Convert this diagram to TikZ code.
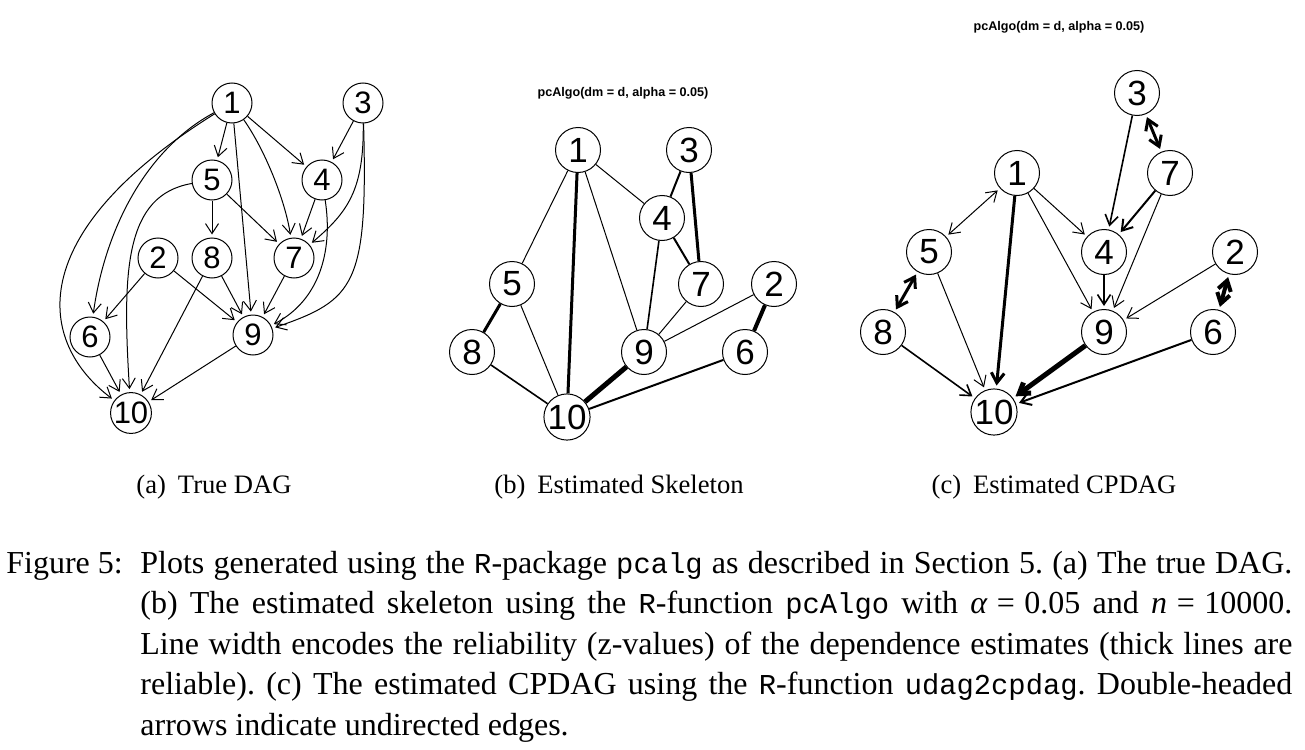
\documentclass[tikz,border=0pt]{standalone}
\usepackage{fontspec}
\setmainfont{Liberation Serif}
\setsansfont{Liberation Sans}
\setmonofont[Scale=0.9]{Liberation Mono}
\usepackage{tikz}
\usetikzlibrary{arrows.meta}

\begin{document}
\begin{tikzpicture}[
			x=0.5pt, y=-0.5pt,
			vertex/.style={
				circle, draw, line width=0.5pt, inner sep=0pt,
				minimum size=20pt, font=\sffamily\fontsize{15.5}{15.5}\selectfont
			},
			bigvertex/.style={vertex, minimum size=22.5pt, font=\sffamily\fontsize{17.5}{17.5}\selectfont},
			arc/.style={-{Straight Barb[length=5pt,width=6.5pt]}, line width=0.5pt, shorten >=1.5pt},
			biarc/.style={{Straight Barb[length=5pt,width=6.5pt]}-{Straight Barb[length=5pt,width=6.5pt]}, shorten >=1.5pt, shorten <=1.5pt},
			wa/.style={line width=0.5pt},
			wb/.style={line width=0.8pt},
			wc/.style={line width=1pt},
			wd/.style={line width=1.5pt},
			we/.style={line width=2pt},
			wf/.style={line width=2.5pt},
			plottitle/.style={font=\sffamily\bfseries\fontsize{6.3}{7}\selectfont},
			subcap/.style={anchor=base, font=\fontsize{13.3}{16}\selectfont}
			]
			\useasboundingbox (0,0) rectangle (1305,749);
			% (a) true DAG
			\node[vertex] (a1) at (232,103) {1};
			\node[vertex] (a3) at (363,103) {3};
			\node[vertex] (a5) at (212,180) {5};
			\node[vertex] (a4) at (322,180) {4};
			\node[vertex] (a2) at (158,258) {2};
			\node[vertex] (a8) at (212,258) {8};
			\node[vertex] (a7) at (294,258) {7};
			\node[vertex] (a6) at (90,337) {6};
			\node[vertex] (a9) at (253,335) {9};
			\node[vertex] (a10) at (131,413) {10};
			\draw[arc] (a1)--(a5);
			\draw[arc] (a1)--(a4);
			\draw[arc] (a1)--(a9);
			\draw[arc] (a1) .. controls (265,150) and (285,200) .. (a7);
			\draw[arc] (a1) .. controls (145,150) and (105,230) .. (a6);
			\draw[arc] (a1) .. controls (22,234) and (37,342) .. (a10);
			\draw[arc] (a3)--(a4);
			\draw[arc] (a3) .. controls (364,190) and (348,212) .. (a7);
			\draw[arc] (a3) .. controls (368,285) and (355,300) .. (a9);
			\draw[arc] (a5)--(a8);
			\draw[arc] (a5)--(a7);
			\draw[arc] (a5) .. controls (125,195) and (122,270) .. (a10);
			\draw[arc] (a4)--(a7);
			\draw[arc] (a4) .. controls (333,250) and (320,300) .. (a9);
			\draw[arc] (a2)--(a6);
			\draw[arc] (a2)--(a9);
			\draw[arc] (a8)--(a9);
			\draw[arc] (a8)--(a10);
			\draw[arc] (a7)--(a9);
			\draw[arc] (a6)--(a10);
			\draw[arc] (a9)--(a10);
			\node[subcap] (capa) at (214,493) {(a)\hspace{6pt}True DAG};
			% (b) estimated skeleton
			\node[plottitle] (titleb) at (623,93) {pcAlgo(dm = d, alpha = 0.05)};
			\node[bigvertex] (b1) at (578,150) {1};
			\node[bigvertex] (b3) at (689,150) {3};
			\node[bigvertex] (b4) at (662,218) {4};
			\node[bigvertex] (b5) at (512,284) {5};
			\node[bigvertex] (b7) at (701,284) {7};
			\node[bigvertex] (b2) at (774,284) {2};
			\node[bigvertex] (b8) at (472,352) {8};
			\node[bigvertex] (b9) at (644,352) {9};
			\node[bigvertex] (b6) at (745,352) {6};
			\node[bigvertex] (b10) at (567,417) {10};
			\draw[wa] (b1)--(b5);
			\draw[wd] (b1)--(b10);
			\draw[wa] (b1)--(b4);
			\draw[wa] (b1)--(b9);
			\draw[wc] (b3)--(b4);
			\draw[wd] (b3)--(b7);
			\draw[wc] (b4)--(b7);
			\draw[wb] (b4)--(b9);
			\draw[wa] (b7)--(b9);
			\draw[wa] (b2)--(b9);
			\draw[we] (b2)--(b6);
			\draw[wd] (b5)--(b8);
			\draw[wa] (b5)--(b10);
			\draw[wb] (b8)--(b10);
			\draw[wf] (b9)--(b10);
			\draw[wc] (b6)--(b10);
			\node[subcap] (capb) at (619,493) {(b)\hspace{6pt}Estimated Skeleton};
			% (c) estimated CPDAG
			\node[plottitle] (titlec) at (1059,27) {pcAlgo(dm = d, alpha = 0.05)};
			\node[bigvertex] (c3) at (1137,93) {3};
			\node[bigvertex] (c1) at (1017,173) {1};
			\node[bigvertex] (c7) at (1170,173) {7};
			\node[bigvertex] (c5) at (929,252) {5};
			\node[bigvertex] (c4) at (1104,252) {4};
			\node[bigvertex] (c2) at (1235,252) {2};
			\node[bigvertex] (c8) at (883,332) {8};
			\node[bigvertex] (c9) at (1104,332) {9};
			\node[bigvertex] (c6) at (1213,332) {6};
			\node[bigvertex] (c10) at (994,412) {10};
			\draw[arc, wb] (c3)--(c4);
			\draw[biarc, wd] (c3)--(c7);
			\draw[arc, wc] (c7)--(c4);
			\draw[arc, wa] (c7)--(c9);
			\draw[biarc, wa] (c1)--(c5);
			\draw[arc, wa] (c1)--(c4);
			\draw[arc, wa] (c1)--(c9);
			\draw[arc, wd] (c1)--(c10);
			\draw[arc, wb] (c4)--(c9);
			\draw[arc, wa] (c2)--(c9);
			\draw[biarc, we] (c2)--(c6);
			\draw[biarc, wd] (c5)--(c8);
			\draw[arc, wa] (c5)--(c10);
			\draw[arc, wb] (c8)--(c10);
			\draw[arc, wf] (c9)--(c10);
			\draw[arc, wc] (c6)--(c10);
			\node[subcap] (capc) at (1054,493) {(c)\hspace{6pt}Estimated CPDAG};
			% caption
			\node[anchor=base west, inner sep=0pt, font=\fontsize{16}{20.3}\selectfont] (figlabel) at (6,573) {Figure 5:};
			\node[anchor=base west, inner sep=0pt, text width=576pt, align=justify,
				font=\fontsize{16}{20.3}\selectfont] (captext) at (140,573) {\frenchspacing\hyphenpenalty=10000\tolerance=9999
				Plots generated using the \texttt{R}-package \texttt{pcalg} as described in Section 5. (a) The true DAG.\linebreak
				(b) The estimated skeleton using the \texttt{R}-function \texttt{pcAlgo} with {\itshape α}\hspace{0.3em}=\hspace{0.3em}0.05 and {\itshape n}\hspace{0.3em}=\hspace{0.3em}10000.\linebreak
				Line width encodes the reliability (z-values) of the dependence estimates (thick lines are\linebreak
				reliable). (c) The estimated CPDAG using the \texttt{R}-function \texttt{udag2cpdag}. Double-headed\linebreak
				arrows indicate undirected edges.};
		\end{tikzpicture}
\end{document}
